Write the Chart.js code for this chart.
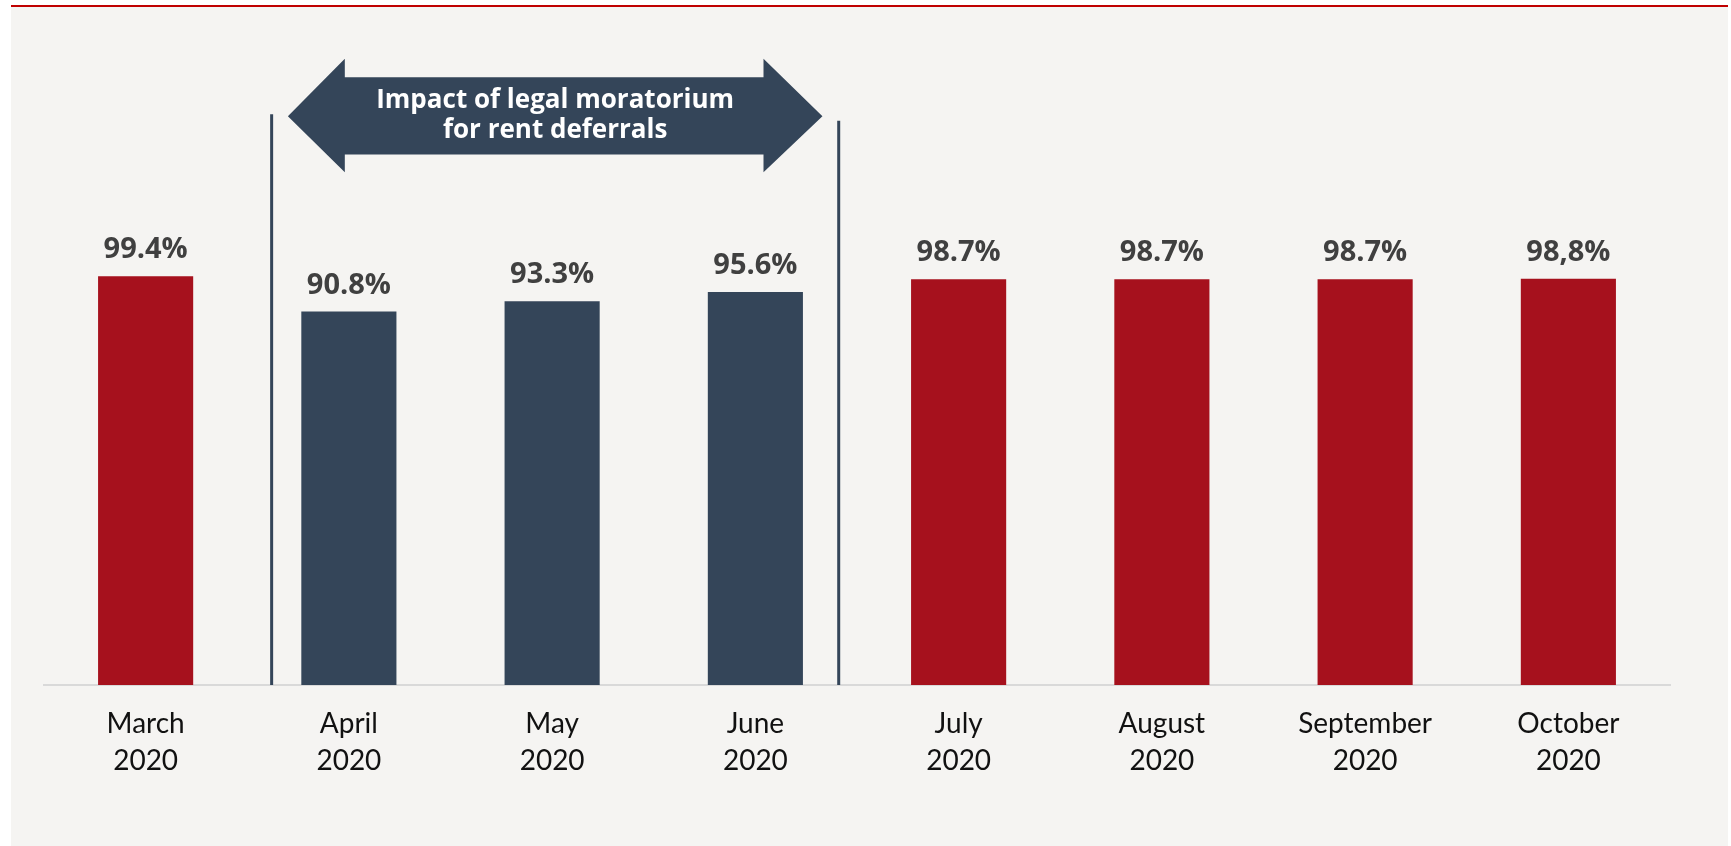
<!DOCTYPE html>
<html>
<head>
<meta charset="utf-8">
<script src="https://cdn.jsdelivr.net/npm/chart.js@4/dist/chart.umd.min.js"></script>
<style>
html, body { margin: 0; padding: 0; background: #fff; }
#wrap { width: 1731px; height: 846px; position: relative; }
</style>
</head>
<body>
<div id="wrap"><canvas id="chart"></canvas></div>
<script>
// data
const months = [["March", "2020"], ["April", "2020"], ["May", "2020"], ["June", "2020"],
                ["July", "2020"], ["August", "2020"], ["September", "2020"], ["October", "2020"]];
const occupancy = [99.4, 90.8, 93.3, 95.6, 98.7, 98.7, 98.7, 98.8];
const valueLabels = ["99.4%", "90.8%", "93.3%", "95.6%", "98.7%", "98.7%", "98.7%", "98,8%"];
const moratorium = [false, true, true, true, false, false, false, false];
const arrowText = ["Impact of legal moratorium", "for rent deferrals"];

const RED = '#A6111D';
const NAVY = '#344559';

// frame: white margin, grey panel, thin red rule on top
const frame = {
    id: 'frame',
    beforeDraw(chart) {
        const c = chart.ctx;
        c.save();
        c.fillStyle = '#ffffff';
        c.fillRect(0, 0, chart.width, chart.height);
        c.fillStyle = '#F5F4F2';
        c.fillRect(11, 7, 1717, chart.height - 7);
        c.fillStyle = '#C00000';
        c.fillRect(11, 5, 1717, 2);
        c.restore();
    }
};

const valueText = {
    id: 'valueText',
    afterDatasetsDraw(chart) {
        const c = chart.ctx;
        c.save();
        c.font = 'bold 29px "Open Sans"';
        c.fillStyle = '#404040';
        c.textAlign = 'center';
        c.textBaseline = 'alphabetic';
        chart.getDatasetMeta(0).data.forEach((bar, i) => {
            c.fillText(valueLabels[i], bar.x, bar.y - 18);
        });
        c.restore();
    }
};

// moratorium marker: two separator lines and a double arrow, placed in scale units
const moratoriumMark = {
    id: 'moratoriumMark',
    afterDraw(chart) {
        const x = chart.scales.x, y = chart.scales.y;
        const c = chart.ctx;
        const px = v => x.getPixelForValue(v);
        const py = v => y.getPixelForValue(v);
        c.save();
        c.strokeStyle = NAVY;
        c.lineWidth = 3;
        [[0.62, 138.8], [3.41, 137.2]].forEach(([v, top]) => {
            c.beginPath();
            c.moveTo(px(v), py(top));
            c.lineTo(px(v), py(0));
            c.stroke();
        });
        const pts = [[0.70, 138.3], [0.98, 152.3], [0.98, 147.8], [3.04, 147.8], [3.04, 152.3],
                     [3.33, 138.3], [3.04, 124.7], [3.04, 129.0], [0.98, 129.0], [0.98, 124.7]];
        c.fillStyle = NAVY;
        c.beginPath();
        pts.forEach(([a, b], i) => i ? c.lineTo(px(a), py(b)) : c.moveTo(px(a), py(b)));
        c.closePath();
        c.fill();
        c.fillStyle = '#ffffff';
        c.font = 'bold 26px "Open Sans"';
        c.textAlign = 'center';
        c.textBaseline = 'middle';
        c.fillText(arrowText[0], px(2.015), py(142.0));
        c.fillText(arrowText[1], px(2.015), py(134.7));
        c.restore();
    }
};

const ctx = document.getElementById('chart').getContext('2d');
const chart = new Chart(ctx, {
    type: 'bar',
    data: {
        labels: months,
        datasets: [{
            data: occupancy,
            backgroundColor: moratorium.map(m => m ? NAVY : RED),
            barPercentage: 0.468,
            categoryPercentage: 1
        }]
    },
    options: {
        responsive: true,
        maintainAspectRatio: false,
        animation: false,
        layout: {
            padding: { left: 44, right: 61, top: 27, bottom: 47 }
        },
        scales: {
            x: {
                grid: { display: false, drawTicks: false },
                border: { color: '#D9D9D9', width: 2 },
                ticks: {
                    color: '#111111',
                    padding: 20,
                    font: { family: 'Lato', size: 28, lineHeight: 1.32 }
                }
            },
            y: {
                display: false,
                min: 0,
                max: 160
            }
        },
        plugins: {
            legend: { display: false },
            tooltip: { enabled: false }
        }
    },
    plugins: [frame, valueText, moratoriumMark]
});
</script>
</body>
</html>
